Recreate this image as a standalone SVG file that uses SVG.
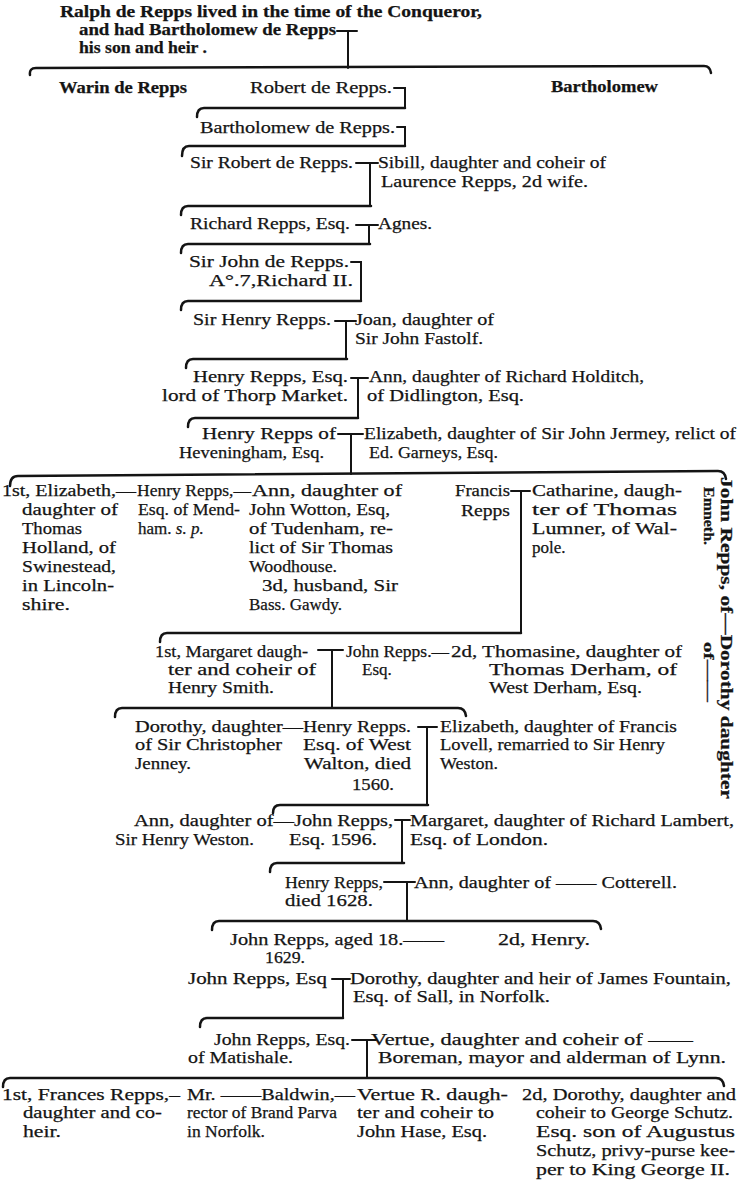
<svg xmlns="http://www.w3.org/2000/svg" width="737" height="1200" viewBox="0 0 737 1200">
<style>
text{font-family:"Liberation Serif","Times New Roman",serif;font-size:17px;fill:#141414;stroke:#141414;stroke-width:0.25}
.b{font-weight:bold}
.t{font-size:16px}
.s{font-size:14px}
.ln{fill:none;stroke:#141414;stroke-width:2;stroke-linecap:round}
.br{fill:none;stroke:#141414;stroke-width:2.5;stroke-linecap:round}
</style>
<rect width="737" height="1200" fill="#fff"/>
<g id="connectors">
<path class="ln" d="M337 31 H357 M348 31 V68"/>
<path class="br" d="M30 75 Q29 68 36 68 L704 66 Q710 66 711 73"/>
<path class="ln" d="M394 88 H405 V107"/>
<path class="br" d="M197 117 Q197 108 204 108 H405"/>
<path class="ln" d="M397 127 H405 V145"/>
<path class="br" d="M182 156 Q182 146 189 146 H405"/>
<path class="ln" d="M356 163 H378 M370 163 V205"/>
<path class="br" d="M181 215 Q181 206 188 206 H371"/>
<path class="ln" d="M356 225 H378 M369 225 V243"/>
<path class="br" d="M181 253 Q181 244 188 244 H370"/>
<path class="ln" d="M351 262 H361 V300"/>
<path class="br" d="M181 310 Q181 301 188 301 H361"/>
<path class="ln" d="M335 321 H356 M346 321 V359"/>
<path class="br" d="M186 368 Q186 359 193 359 H347"/>
<path class="ln" d="M351 378 H368 M358 378 V417"/>
<path class="br" d="M188 427 Q188 418 195 418 H358"/>
<path class="ln" d="M338 434 H363 M351 434 V474"/>
<path class="br" d="M10 486 Q10 476 18 476 L718 471 Q725 471 726 479"/>
<path class="ln" d="M511 491 H530 M521 491 V632"/>
<path class="br" d="M160 642 Q160 633 167 633 H521"/>
<path class="ln" d="M318 650 H343 M332 650 V707"/>
<path class="br" d="M115 717 Q115 708 122 708 H458 Q465 708 466 716"/>
<path class="ln" d="M418 727 H437 M427 727 V805"/>
<path class="br" d="M273 813 Q273 805 280 805 H428"/>
<path class="ln" d="M395 820 H410 M402 820 V863"/>
<path class="br" d="M270 872 Q270 863 277 863 H404"/>
<path class="ln" d="M384 882 H415 M407 882 V921"/>
<path class="br" d="M212 930 Q212 921 219 921 H593 Q600 921 601 929"/>
<path class="ln" d="M332 979 H350 M343 979 V1018"/>
<path class="br" d="M200 1027 Q200 1018 207 1018 H343"/>
<path class="ln" d="M352 1040 H376 M367 1040 V1078"/>
<path class="br" d="M3 1087 Q3 1078 10 1078 H716 Q723 1078 724 1086"/>
</g>
<g id="n-ralph" class="b t">
<text x="60" y="17" textLength="422" lengthAdjust="spacingAndGlyphs">Ralph de Repps lived in the time of the Conqueror,</text>
<text x="79" y="35" textLength="257" lengthAdjust="spacingAndGlyphs">and had Bartholomew de Repps</text>
<text x="79" y="53" textLength="128" lengthAdjust="spacingAndGlyphs">his son and heir .</text>
</g>
<g id="n-warin"><text class="b" x="59" y="93" textLength="128" lengthAdjust="spacingAndGlyphs">Warin de Repps</text></g>
<g id="n-robert"><text x="250" y="93" textLength="142" lengthAdjust="spacingAndGlyphs">Robert de Repps.</text></g>
<g id="n-bartholomew"><text class="b" x="551" y="92" textLength="107" lengthAdjust="spacingAndGlyphs">Bartholomew</text></g>
<g id="n-bartholomew2"><text x="200" y="133" textLength="195" lengthAdjust="spacingAndGlyphs">Bartholomew de Repps.</text></g>
<g id="n-robert2"><text x="190" y="168" textLength="163" lengthAdjust="spacingAndGlyphs">Sir Robert de Repps.</text></g>
<g id="n-sibill">
<text x="378" y="168" textLength="228" lengthAdjust="spacingAndGlyphs">Sibill, daughter and coheir of</text>
<text x="381" y="187" textLength="207" lengthAdjust="spacingAndGlyphs">Laurence Repps, 2d wife.</text>
</g>
<g id="n-richard"><text x="190" y="229" textLength="160" lengthAdjust="spacingAndGlyphs">Richard Repps, Esq.</text></g>
<g id="n-agnes"><text x="378" y="229" textLength="54" lengthAdjust="spacingAndGlyphs">Agnes.</text></g>
<g id="n-john1">
<text x="189" y="267" textLength="160" lengthAdjust="spacingAndGlyphs">Sir John de Repps.</text>
<text x="209" y="286" textLength="144" lengthAdjust="spacingAndGlyphs">A°.7,Richard II.</text>
</g>
<g id="n-henry1"><text x="193" y="325" textLength="138" lengthAdjust="spacingAndGlyphs">Sir Henry Repps.</text></g>
<g id="n-joan">
<text x="355" y="325" textLength="139" lengthAdjust="spacingAndGlyphs">Joan, daughter of</text>
<text x="355" y="344" textLength="128" lengthAdjust="spacingAndGlyphs">Sir John Fastolf.</text>
</g>
<g id="n-henry2">
<text x="193" y="382" textLength="155" lengthAdjust="spacingAndGlyphs">Henry Repps, Esq.</text>
<text x="162" y="401" textLength="186" lengthAdjust="spacingAndGlyphs">lord of Thorp Market.</text>
</g>
<g id="n-ann1">
<text x="369" y="382" textLength="275" lengthAdjust="spacingAndGlyphs">Ann, daughter of Richard Holditch,</text>
<text x="367" y="401" textLength="157" lengthAdjust="spacingAndGlyphs">of Didlington, Esq.</text>
</g>
<g id="n-henry3">
<text x="202" y="439" textLength="134" lengthAdjust="spacingAndGlyphs">Henry Repps of</text>
<text x="179" y="458" textLength="145" lengthAdjust="spacingAndGlyphs">Heveningham, Esq.</text>
</g>
<g id="n-elizabeth1">
<text x="364" y="439" textLength="372" lengthAdjust="spacingAndGlyphs">Elizabeth, daughter of Sir John Jermey, relict of</text>
<text x="369" y="458" textLength="129" lengthAdjust="spacingAndGlyphs">Ed. Garneys, Esq.</text>
</g>
<g id="n-elizabeth2">
<text x="2" y="496" textLength="134" lengthAdjust="spacingAndGlyphs">1st, Elizabeth,—</text>
<text x="22" y="515" textLength="96" lengthAdjust="spacingAndGlyphs">daughter of</text>
<text x="22" y="534" textLength="60" lengthAdjust="spacingAndGlyphs">Thomas</text>
<text x="22" y="553" textLength="94" lengthAdjust="spacingAndGlyphs">Holland, of</text>
<text x="22" y="572" textLength="94" lengthAdjust="spacingAndGlyphs">Swinestead,</text>
<text x="22" y="591" textLength="92" lengthAdjust="spacingAndGlyphs">in Lincoln-</text>
<text x="22" y="610" textLength="48" lengthAdjust="spacingAndGlyphs">shire.</text>
</g>
<g id="n-henry4">
<text x="137" y="496" textLength="114" lengthAdjust="spacingAndGlyphs">Henry  Repps,—</text>
<text x="138" y="515" textLength="102" lengthAdjust="spacingAndGlyphs">Esq. of Mend-</text>
<text x="138" y="534">ham. <tspan font-style="italic">s. p.</tspan></text>
</g>
<g id="n-ann2">
<text x="252" y="496" textLength="150" lengthAdjust="spacingAndGlyphs">Ann, daughter of</text>
<text x="249" y="515" textLength="141" lengthAdjust="spacingAndGlyphs">John Wotton, Esq,</text>
<text x="249" y="534" textLength="144" lengthAdjust="spacingAndGlyphs">of Tudenham, re-</text>
<text x="249" y="553" textLength="144" lengthAdjust="spacingAndGlyphs">lict of Sir Thomas</text>
<text x="249" y="572" textLength="88" lengthAdjust="spacingAndGlyphs">Woodhouse.</text>
<text x="262" y="591" textLength="136" lengthAdjust="spacingAndGlyphs">3d, husband, Sir</text>
<text x="249" y="610" textLength="93" lengthAdjust="spacingAndGlyphs">Bass. Gawdy.</text>
</g>
<g id="n-francis">
<text x="455" y="496" textLength="55" lengthAdjust="spacingAndGlyphs">Francis</text>
<text x="461" y="516" textLength="49" lengthAdjust="spacingAndGlyphs">Repps</text>
</g>
<g id="n-catharine">
<text x="532" y="496" textLength="150" lengthAdjust="spacingAndGlyphs">Catharine, daugh-</text>
<text x="532" y="515" textLength="145" lengthAdjust="spacingAndGlyphs">ter   of   Thomas</text>
<text x="532" y="534" textLength="145" lengthAdjust="spacingAndGlyphs">Lumner, of Wal-</text>
<text x="532" y="553">pole.</text>
</g>
<g id="n-john-emneth" class="b">
<text transform="translate(721,477) rotate(90)" textLength="322" lengthAdjust="spacingAndGlyphs">John Repps, of—Dorothy daughter</text>
<text class="s" transform="translate(704,487) rotate(90)" textLength="58" lengthAdjust="spacingAndGlyphs">Emneth.</text>
<text class="s" transform="translate(704,642) rotate(90)" textLength="60" lengthAdjust="spacingAndGlyphs">of——</text>
</g>
<g id="n-margaret">
<text x="155" y="657" textLength="153" lengthAdjust="spacingAndGlyphs">1st, Margaret daugh-</text>
<text x="168" y="675" textLength="148" lengthAdjust="spacingAndGlyphs">ter  and  coheir  of</text>
<text x="168" y="693" textLength="106" lengthAdjust="spacingAndGlyphs">Henry Smith.</text>
</g>
<g id="n-john2">
<text x="346" y="657" textLength="103" lengthAdjust="spacingAndGlyphs">John Repps.—</text>
<text x="362" y="675">Esq.</text>
</g>
<g id="n-thomasine">
<text x="451" y="657" textLength="231" lengthAdjust="spacingAndGlyphs">2d, Thomasine, daughter of</text>
<text x="489" y="675" textLength="188" lengthAdjust="spacingAndGlyphs">Thomas   Derham,   of</text>
<text x="489" y="693" textLength="153" lengthAdjust="spacingAndGlyphs">West Derham, Esq.</text>
</g>
<g id="n-dorothy1">
<text x="135" y="732" textLength="168" lengthAdjust="spacingAndGlyphs">Dorothy, daughter—</text>
<text x="135" y="750" textLength="147" lengthAdjust="spacingAndGlyphs">of Sir Christopher</text>
<text x="135" y="769" textLength="56" lengthAdjust="spacingAndGlyphs">Jenney.</text>
</g>
<g id="n-henry5">
<text x="303" y="732" textLength="108" lengthAdjust="spacingAndGlyphs">Henry Repps.</text>
<text x="303" y="750" textLength="108" lengthAdjust="spacingAndGlyphs">Esq.  of  West</text>
<text x="304" y="769" textLength="107" lengthAdjust="spacingAndGlyphs">Walton,  died</text>
<text x="352" y="790" textLength="42" lengthAdjust="spacingAndGlyphs">1560.</text>
</g>
<g id="n-elizabeth3">
<text x="440" y="732" textLength="237" lengthAdjust="spacingAndGlyphs">Elizabeth, daughter of Francis</text>
<text x="440" y="750" textLength="225" lengthAdjust="spacingAndGlyphs">Lovell, remarried to Sir Henry</text>
<text x="440" y="769" textLength="58" lengthAdjust="spacingAndGlyphs">Weston.</text>
</g>
<g id="n-ann3">
<text x="134" y="826" textLength="160" lengthAdjust="spacingAndGlyphs">Ann, daughter of—</text>
<text x="115" y="845" textLength="139" lengthAdjust="spacingAndGlyphs">Sir Henry Weston.</text>
</g>
<g id="n-john3">
<text x="294" y="826" textLength="99" lengthAdjust="spacingAndGlyphs">John Repps,</text>
<text x="289" y="845" textLength="88" lengthAdjust="spacingAndGlyphs">Esq. 1596.</text>
</g>
<g id="n-margaret2">
<text x="410" y="826" textLength="324" lengthAdjust="spacingAndGlyphs">Margaret, daughter of Richard Lambert,</text>
<text x="410" y="845" textLength="138" lengthAdjust="spacingAndGlyphs">Esq. of London.</text>
</g>
<g id="n-henry6">
<text x="285" y="888" textLength="98" lengthAdjust="spacingAndGlyphs">Henry Repps,</text>
<text x="285" y="906" textLength="88" lengthAdjust="spacingAndGlyphs">died 1628.</text>
</g>
<g id="n-ann4"><text x="414" y="888" textLength="263" lengthAdjust="spacingAndGlyphs">Ann, daughter of —— Cotterell.</text></g>
<g id="n-john4">
<text x="230" y="945" textLength="214" lengthAdjust="spacingAndGlyphs">John Repps, aged 18.——</text>
<text x="265" y="963" textLength="40" lengthAdjust="spacingAndGlyphs">1629.</text>
</g>
<g id="n-henry7"><text x="498" y="945" textLength="92" lengthAdjust="spacingAndGlyphs">2d, Henry.</text></g>
<g id="n-john5"><text x="188" y="984" textLength="139" lengthAdjust="spacingAndGlyphs">John Repps, Esq</text></g>
<g id="n-dorothy2">
<text x="350" y="984" textLength="381" lengthAdjust="spacingAndGlyphs">Dorothy, daughter and heir of James Fountain,</text>
<text x="353" y="1002" textLength="197" lengthAdjust="spacingAndGlyphs">Esq. of Sall, in Norfolk.</text>
</g>
<g id="n-john6">
<text x="214" y="1045" textLength="136" lengthAdjust="spacingAndGlyphs">John Repps, Esq.</text>
<text x="188" y="1063" textLength="105" lengthAdjust="spacingAndGlyphs">of Matishale.</text>
</g>
<g id="n-vertue">
<text x="371" y="1045" textLength="322" lengthAdjust="spacingAndGlyphs">Vertue, daughter and coheir of ——</text>
<text x="378" y="1063" textLength="348" lengthAdjust="spacingAndGlyphs">Boreman, mayor and alderman of Lynn.</text>
</g>
<g id="n-frances">
<text x="2" y="1100" textLength="178" lengthAdjust="spacingAndGlyphs">1st, Frances  Repps,–</text>
<text x="23" y="1118" textLength="139" lengthAdjust="spacingAndGlyphs">daughter and co-</text>
<text x="23" y="1137" textLength="38" lengthAdjust="spacingAndGlyphs">heir.</text>
</g>
<g id="n-baldwin">
<text x="187" y="1100" textLength="168" lengthAdjust="spacingAndGlyphs">Mr. ——Baldwin,—</text>
<text x="187" y="1118" textLength="150" lengthAdjust="spacingAndGlyphs">rector of Brand Parva</text>
<text x="187" y="1137" textLength="78" lengthAdjust="spacingAndGlyphs">in Norfolk.</text>
</g>
<g id="n-vertue2">
<text x="357" y="1100" textLength="151" lengthAdjust="spacingAndGlyphs">Vertue R. daugh-</text>
<text x="357" y="1118" textLength="137" lengthAdjust="spacingAndGlyphs">ter and coheir to</text>
<text x="357" y="1137" textLength="130" lengthAdjust="spacingAndGlyphs">John Hase, Esq.</text>
</g>
<g id="n-dorothy3">
<text x="522" y="1100" textLength="214" lengthAdjust="spacingAndGlyphs">2d, Dorothy, daughter and</text>
<text x="536" y="1118" textLength="197" lengthAdjust="spacingAndGlyphs">coheir to George Schutz.</text>
<text x="536" y="1137" textLength="199" lengthAdjust="spacingAndGlyphs">Esq.  son  of  Augustus</text>
<text x="536" y="1156" textLength="199" lengthAdjust="spacingAndGlyphs">Schutz, privy-purse kee-</text>
<text x="536" y="1175" textLength="194" lengthAdjust="spacingAndGlyphs">per to King George II.</text>
</g>
</svg>
